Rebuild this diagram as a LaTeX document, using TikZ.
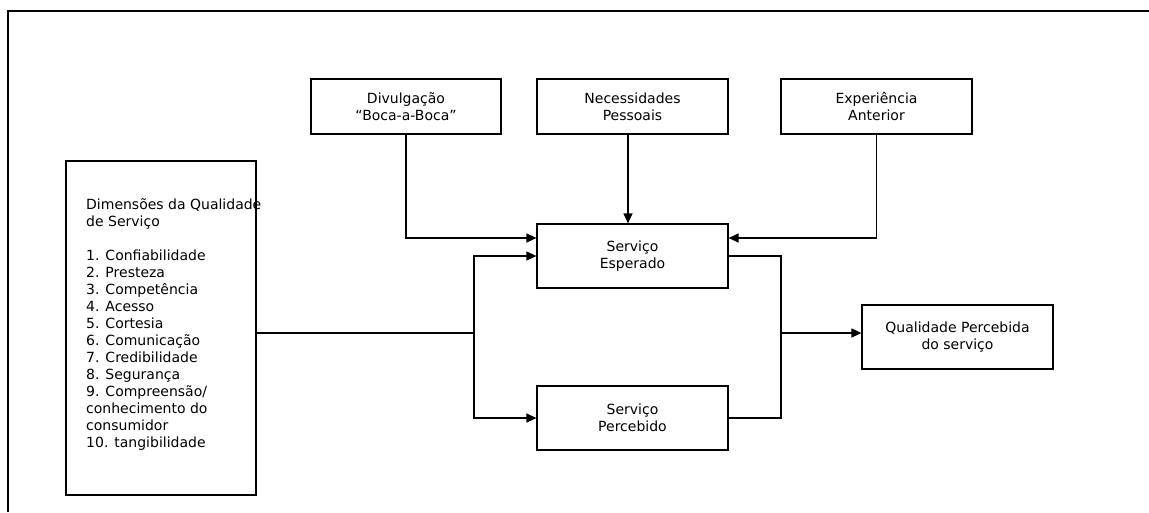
\documentclass[tikz,border=0pt]{standalone}
\usepackage{fontspec}
\setmainfont{DejaVu Sans}
\usetikzlibrary{arrows.meta}
\begin{document}
\begin{tikzpicture}[x=1pt,y=-1pt,
  box/.style={draw, line width=1.2pt, rectangle, inner sep=0pt, align=center,
              font=\fontsize{14}{17}\selectfont},
  link/.style={line width=1.2pt},
  arr/.style={link, -{Triangle[length=10pt,width=9pt]}}]
\useasboundingbox (0,0) rectangle (1149,512);
% outer frame (top and left edges)
\draw[line width=2pt] (8,512) -- (8,11) -- (1149,11);

% boxes
\node[box, minimum width=190pt, minimum height=334pt] (dim) at (161,328) {};
\node[anchor=north west, inner sep=0pt, align=left,
      font=\fontsize{14}{17}\selectfont] (dimtxt) at (86,198.5)
  {Dimensões da Qualidade\\de Serviço\\[17pt]1. Confiabilidade\\2. Presteza\\3. Competência\\4. Acesso\\5. Cortesia\\6. Comunicação\\7. Credibilidade\\8. Segurança\\9. Compreensão/\\conhecimento do\\consumidor\\10. tangibilidade};

\node[box, minimum width=190pt, minimum height=55pt] (div) at (406,106.5) {Divulgação\\“Boca-a-Boca”};
\node[box, minimum width=191pt, minimum height=55pt] (nec) at (632.5,106.5) {Necessidades\\Pessoais};
\node[box, minimum width=191pt, minimum height=55pt] (exp) at (876.5,106.5) {Experiência\\Anterior};
\node[box, minimum width=191pt, minimum height=64pt] (esp) at (632.5,256) {Serviço\\Esperado};
\node[box, minimum width=191pt, minimum height=64pt] (per) at (632.5,418) {Serviço\\Percebido};
\node[box, minimum width=191pt, minimum height=64pt] (qual) at (957.5,337) {Qualidade Percebida\\do serviço};

% junction points
\coordinate (jl) at (474,333);
\coordinate (jr) at (781,333);

% connectors
\draw[arr] (div.south) |- ([yshift=18pt]esp.west);
\draw[arr] ([xshift=-4.5pt]nec.south) -- ([xshift=-4.5pt]esp.north);
\draw[arr] (exp.south) |- ([yshift=18pt]esp.east);
\draw[link] (jl -| dim.east) -- (jl);
\draw[arr] (jl) |- (esp.west);
\draw[arr] (jl) |- (per.west);
\draw[link] (esp.east) -| (jr);
\draw[link] (per.east) -| (jr);
\draw[arr] (jr) -- (jr -| qual.west);
\end{tikzpicture}
\end{document}
